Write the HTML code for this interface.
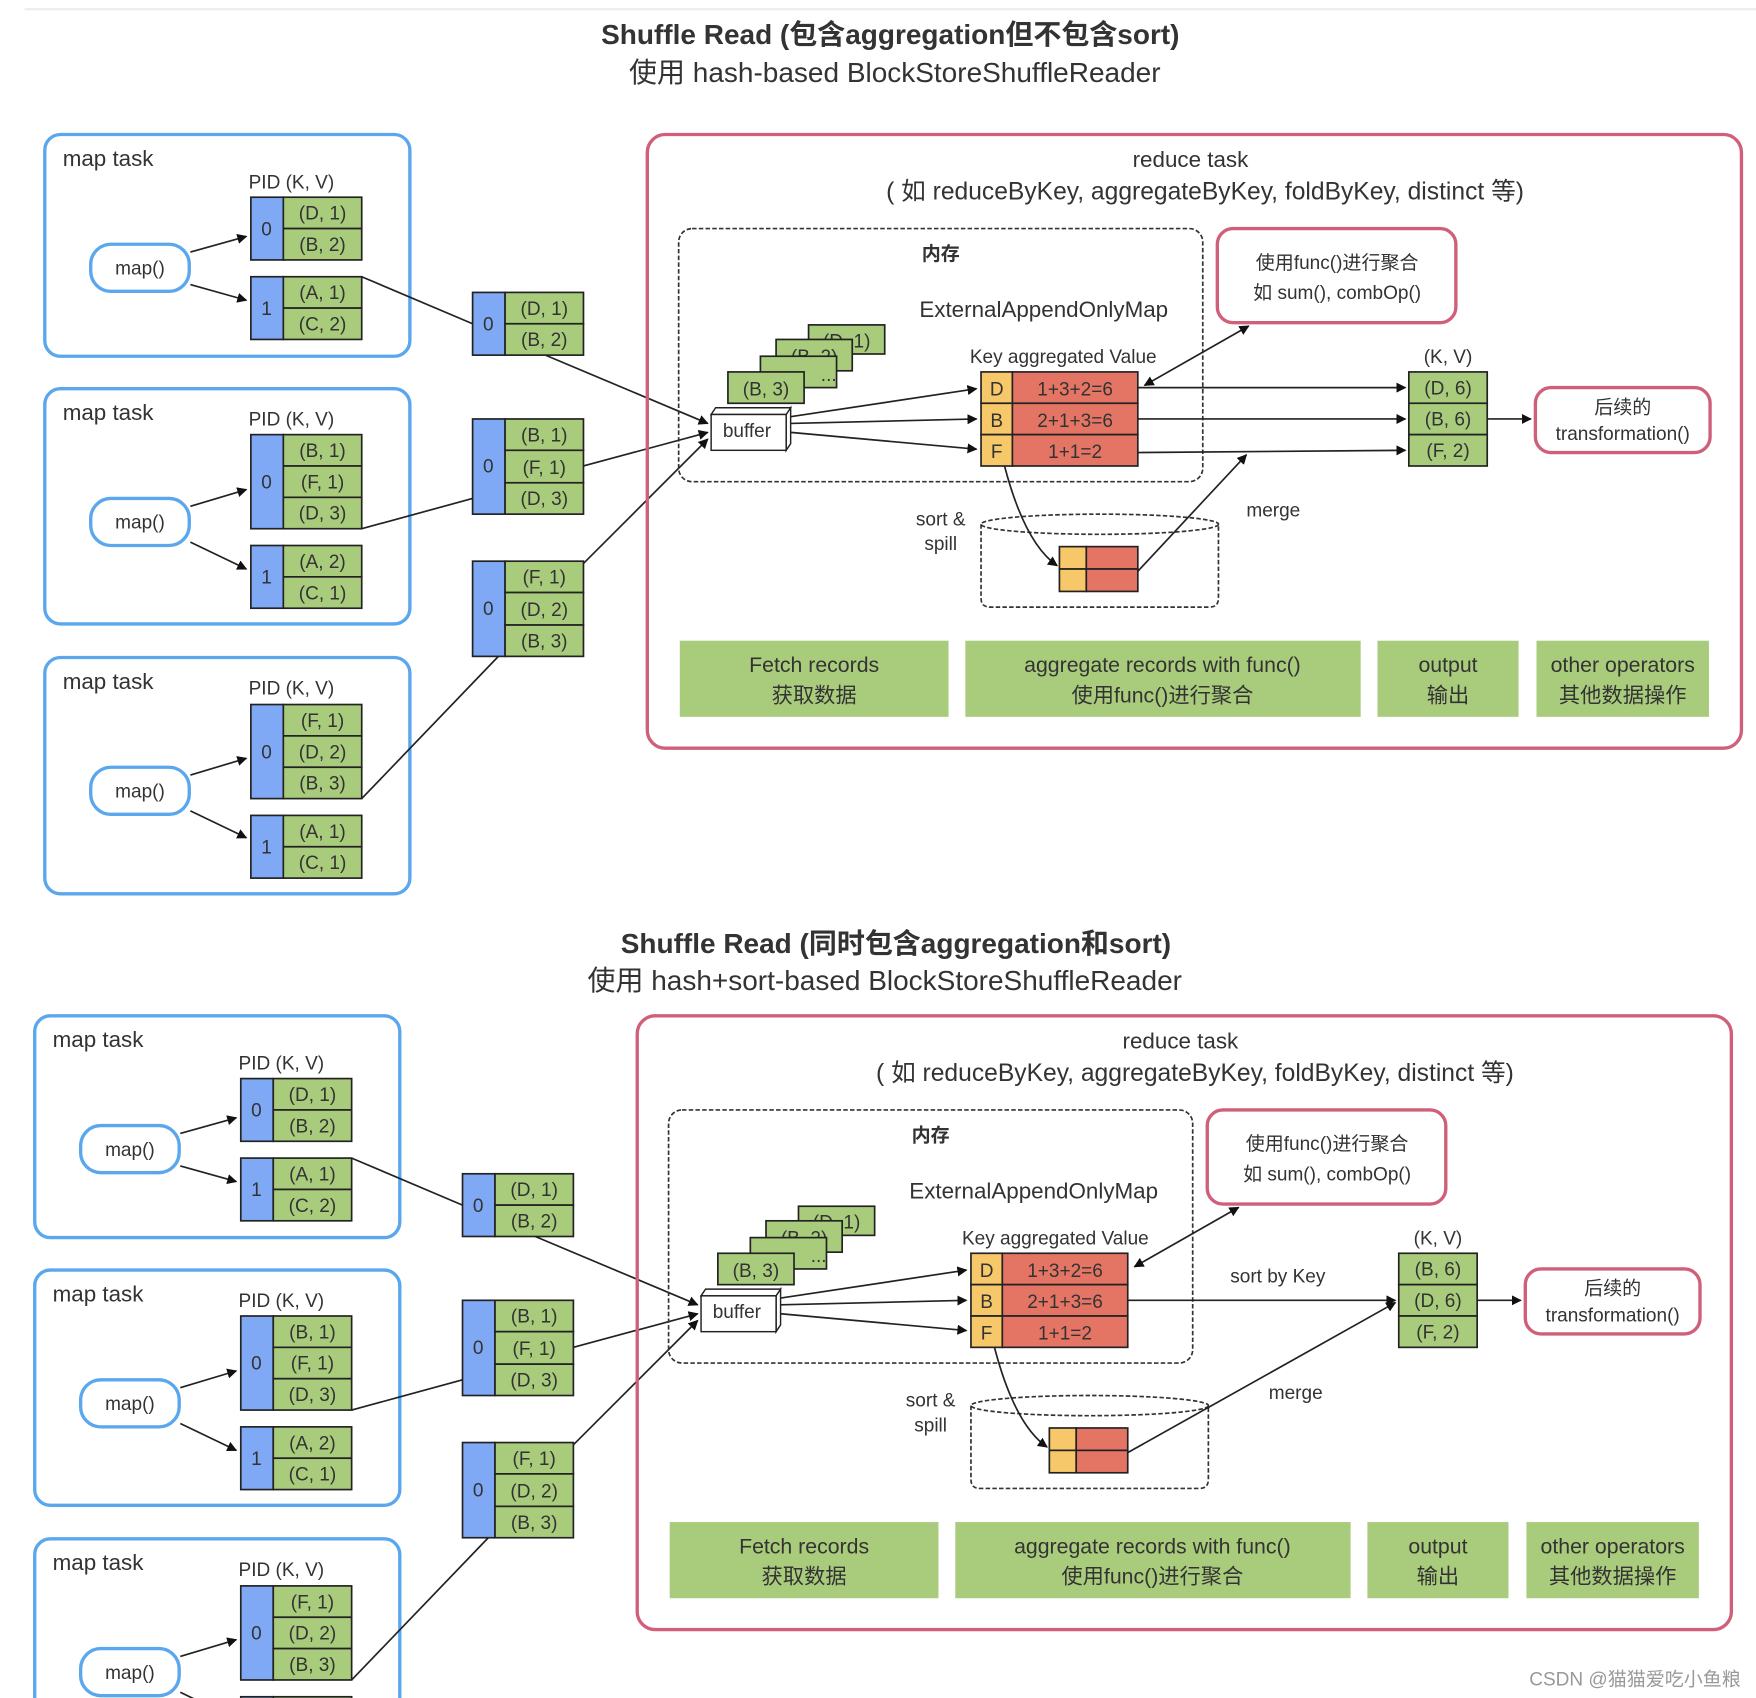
<!DOCTYPE html>
<html><head><meta charset="utf-8"><style>
html,body{margin:0;padding:0;background:#fff;}
svg{display:block;}
text{font-family:"Liberation Sans","Noto Sans CJK SC",sans-serif;fill:#333;}
.c{text-anchor:middle;}
.mt{stroke:#5aa7ee;stroke-width:3;fill:none;}
.pk{stroke:#d0607a;stroke-width:3;fill:none;}
.b{fill:#7fa8f5;stroke:#222;stroke-width:1.5;}
.g{fill:#a9cc7c;stroke:#222;stroke-width:1.5;}
.y{fill:#f6c86a;stroke:#222;stroke-width:1.5;}
.r{fill:#e47565;stroke:#222;stroke-width:1.5;}
.ln{stroke:#222;stroke-width:1.5;fill:none;}
.ar{stroke:#222;stroke-width:1.5;fill:none;marker-end:url(#a);}
.ds{stroke:#333;stroke-width:1.5;fill:none;stroke-dasharray:4 2;}
.gb{fill:#a9cc7c;}
.t17{font-size:17px;}
.t19{font-size:19px;}
.t20{font-size:20px;}
.t22{font-size:22px;}
</style></head><body>
<svg width="1756" height="1698" viewBox="0 0 1568 1516" xmlns="http://www.w3.org/2000/svg">
<defs>
<marker id="a" viewBox="0 0 10 10" refX="9" refY="5" markerWidth="9" markerHeight="9" markerUnits="userSpaceOnUse" orient="auto"><path d="M0,0L10,5L0,10z" fill="#111"/></marker>
<marker id="as" viewBox="0 0 10 10" refX="1" refY="5" markerWidth="9" markerHeight="9" markerUnits="userSpaceOnUse" orient="auto"><path d="M10,0L0,5L10,10z" fill="#111"/></marker>
</defs>
<line x1="22" y1="8" x2="1568" y2="8" stroke="#eee" stroke-width="2"/>

<text x="795" y="39" class="c" font-size="25" font-weight="bold">Shuffle Read (包含aggregation但不包含sort)</text>
<text x="799" y="73" class="c" font-size="25">使用 hash-based BlockStoreShuffleReader</text>

<g>
<rect x="40" y="120" width="326" height="198" rx="14" class="mt"/>
<text x="56" y="148" class="t20">map task</text>
<text x="222" y="168" class="t17">PID  (K, V)</text>
<rect x="81" y="218" width="88" height="42" rx="18" class="mt"/>
<text x="125" y="245" class="c t17">map()</text>
<rect x="224" y="176" width="29" height="56" class="b"/><text x="238" y="210" class="c t17">0</text>
<rect x="253" y="176" width="70" height="28" class="g"/><text x="288" y="196" class="c t17">(D, 1)</text>
<rect x="253" y="204" width="70" height="28" class="g"/><text x="288" y="224" class="c t17">(B, 2)</text>
<rect x="224" y="247" width="29" height="56" class="b"/><text x="238" y="281" class="c t17">1</text>
<rect x="253" y="247" width="70" height="28" class="g"/><text x="288" y="267" class="c t17">(A, 1)</text>
<rect x="253" y="275" width="70" height="28" class="g"/><text x="288" y="295" class="c t17">(C, 2)</text>
<line x1="170" y1="225" x2="220" y2="211" class="ar"/>
<line x1="170" y1="254" x2="220" y2="268" class="ar"/>

<rect x="40" y="347" width="326" height="210" rx="14" class="mt"/>
<text x="56" y="375" class="t20">map task</text>
<text x="222" y="380" class="t17">PID  (K, V)</text>
<rect x="81" y="445" width="88" height="42" rx="18" class="mt"/>
<text x="125" y="472" class="c t17">map()</text>
<rect x="224" y="388" width="29" height="84" class="b"/><text x="238" y="436" class="c t17">0</text>
<rect x="253" y="388" width="70" height="28" class="g"/><text x="288" y="408" class="c t17">(B, 1)</text>
<rect x="253" y="416" width="70" height="28" class="g"/><text x="288" y="436" class="c t17">(F, 1)</text>
<rect x="253" y="444" width="70" height="28" class="g"/><text x="288" y="464" class="c t17">(D, 3)</text>
<rect x="224" y="487" width="29" height="56" class="b"/><text x="238" y="521" class="c t17">1</text>
<rect x="253" y="487" width="70" height="28" class="g"/><text x="288" y="507" class="c t17">(A, 2)</text>
<rect x="253" y="515" width="70" height="28" class="g"/><text x="288" y="535" class="c t17">(C, 1)</text>
<line x1="170" y1="452" x2="220" y2="437" class="ar"/>
<line x1="170" y1="484" x2="220" y2="508" class="ar"/>

<rect x="40" y="587" width="326" height="211" rx="14" class="mt"/>
<text x="56" y="615" class="t20">map task</text>
<text x="222" y="620" class="t17">PID  (K, V)</text>
<rect x="81" y="685" width="88" height="42" rx="18" class="mt"/>
<text x="125" y="712" class="c t17">map()</text>
<rect x="224" y="629" width="29" height="84" class="b"/><text x="238" y="677" class="c t17">0</text>
<rect x="253" y="629" width="70" height="28" class="g"/><text x="288" y="649" class="c t17">(F, 1)</text>
<rect x="253" y="657" width="70" height="28" class="g"/><text x="288" y="677" class="c t17">(D, 2)</text>
<rect x="253" y="685" width="70" height="28" class="g"/><text x="288" y="705" class="c t17">(B, 3)</text>
<rect x="224" y="728" width="29" height="56" class="b"/><text x="238" y="762" class="c t17">1</text>
<rect x="253" y="728" width="70" height="28" class="g"/><text x="288" y="748" class="c t17">(A, 1)</text>
<rect x="253" y="756" width="70" height="28" class="g"/><text x="288" y="776" class="c t17">(C, 1)</text>
<line x1="170" y1="692" x2="220" y2="677" class="ar"/>
<line x1="170" y1="724" x2="220" y2="748" class="ar"/>

<rect x="422" y="261" width="29" height="56" class="b"/><text x="436" y="295" class="c t17">0</text>
<rect x="451" y="261" width="70" height="28" class="g"/><text x="486" y="281" class="c t17">(D, 1)</text>
<rect x="451" y="289" width="70" height="28" class="g"/><text x="486" y="309" class="c t17">(B, 2)</text>
<rect x="422" y="374" width="29" height="85" class="b"/><text x="436" y="422" class="c t17">0</text>
<rect x="451" y="374" width="70" height="28" class="g"/><text x="486" y="394" class="c t17">(B, 1)</text>
<rect x="451" y="402" width="70" height="29" class="g"/><text x="486" y="423" class="c t17">(F, 1)</text>
<rect x="451" y="431" width="70" height="28" class="g"/><text x="486" y="451" class="c t17">(D, 3)</text>
<rect x="422" y="501" width="29" height="85" class="b"/><text x="436" y="549" class="c t17">0</text>
<rect x="451" y="501" width="70" height="28" class="g"/><text x="486" y="521" class="c t17">(F, 1)</text>
<rect x="451" y="529" width="70" height="29" class="g"/><text x="486" y="550" class="c t17">(D, 2)</text>
<rect x="451" y="558" width="70" height="28" class="g"/><text x="486" y="578" class="c t17">(B, 3)</text>
<line x1="323" y1="247" x2="422" y2="289" class="ln"/>
<line x1="323" y1="472" x2="422" y2="445" class="ln"/>
<line x1="323" y1="713" x2="445" y2="586" class="ln"/>
<line x1="487" y1="317" x2="632" y2="378" class="ar"/>
<line x1="521" y1="416" x2="632" y2="386" class="ar"/>
<line x1="521" y1="503" x2="632" y2="392" class="ar"/>

<rect x="578" y="120" width="977" height="548" rx="16" class="pk"/>
<text x="1063" y="149" class="c t20">reduce task</text>
<text x="1076" y="178" class="c t22">( 如 reduceByKey, aggregateByKey, foldByKey, distinct 等)</text>
<rect x="606" y="204" width="468" height="226" rx="12" class="ds"/>
<text x="840" y="232" class="c t17" font-weight="bold">内存</text>
<text x="932" y="283" class="c t20">ExternalAppendOnlyMap</text>
<rect x="1087" y="204" width="213" height="84" rx="14" class="pk"/>
<text x="1194" y="240" class="c t17">使用func()进行聚合</text>
<text x="1194" y="267" class="c t17">如 sum(), combOp()</text>
<rect x="722" y="290" width="68" height="26" class="g"/><text x="756" y="310" class="c t17">(D, 1)</text>
<rect x="693" y="303" width="68" height="28" class="g"/><text x="727" y="324" class="c t17">(B, 2)</text>
<rect x="679" y="318" width="68" height="28" class="g"/><text x="740" y="340" class="c t17">...</text>
<rect x="650" y="332" width="68" height="28" class="g"/><text x="684" y="353" class="c t17">(B, 3)</text>
<path d="M635,370 L639,364 L706,364 L702,370 Z M702,370 L706,364 L706,396 L702,402 Z" fill="#fff" stroke="#222" stroke-width="1.3"/>
<rect x="635" y="370" width="67" height="32" fill="#fff" stroke="#222" stroke-width="1.3"/>
<text x="667" y="390" class="c t17">buffer</text>
<text x="866" y="324" class="t17">Key aggregated Value</text>
<rect x="876" y="332" width="28" height="28" class="y"/><text x="890" y="353" class="c t17">D</text>
<rect x="904" y="332" width="112" height="28" class="r"/><text x="960" y="353" class="c t17">1+3+2=6</text>
<rect x="876" y="360" width="28" height="28" class="y"/><text x="890" y="381" class="c t17">B</text>
<rect x="904" y="360" width="112" height="28" class="r"/><text x="960" y="381" class="c t17">2+1+3=6</text>
<rect x="876" y="388" width="28" height="28" class="y"/><text x="890" y="409" class="c t17">F</text>
<rect x="904" y="388" width="112" height="28" class="r"/><text x="960" y="409" class="c t17">1+1=2</text>
<line x1="706" y1="372" x2="872" y2="347" class="ar"/>
<line x1="706" y1="378" x2="872" y2="374" class="ar"/>
<line x1="706" y1="386" x2="872" y2="401" class="ar"/>
<line x1="1022" y1="344" x2="1115" y2="291" class="ln" marker-start="url(#as)" marker-end="url(#a)"/>
<line x1="1016" y1="346" x2="1255" y2="346" class="ar"/>
<line x1="1016" y1="374" x2="1255" y2="374" class="ar"/>
<line x1="1016" y1="404" x2="1255" y2="402" class="ar"/>
<text x="1293" y="324" class="c t17">(K, V)</text>
<rect x="1258" y="332" width="70" height="28" class="g"/><text x="1293" y="352" class="c t17">(D, 6)</text>
<rect x="1258" y="360" width="70" height="28" class="g"/><text x="1293" y="380" class="c t17">(B, 6)</text>
<rect x="1258" y="388" width="70" height="28" class="g"/><text x="1293" y="408" class="c t17">(F, 2)</text>
<line x1="1328" y1="374" x2="1367" y2="374" class="ar"/>
<rect x="1371" y="346" width="156" height="58" rx="14" class="pk"/>
<text x="1449" y="369" class="c t17">后续的</text>
<text x="1449" y="393" class="c t17">transformation()</text>
<text x="840" y="469" class="c t17">sort &amp;</text>
<text x="840" y="491" class="c t17">spill</text>
<path d="M876,468 L876,534 Q876,542 884,542 L1080,542 Q1088,542 1088,534 L1088,468" class="ds"/>
<ellipse cx="982" cy="468" rx="106" ry="9" class="ds"/>
<rect x="946" y="488" width="24" height="20" class="y"/><rect x="970" y="488" width="46" height="20" class="r"/>
<rect x="946" y="508" width="24" height="20" class="y"/><rect x="970" y="508" width="46" height="20" class="r"/>
<path d="M897,416 Q915,485 944,505" class="ar"/>
<line x1="1016" y1="510" x2="1113" y2="406" class="ar"/>
<text x="1137" y="461" class="c t17">merge</text>
<rect x="607" y="572" width="240" height="68" class="gb"/>
<text x="727" y="600" class="c t19">Fetch records</text><text x="727" y="627" class="c t19">获取数据</text>
<rect x="862" y="572" width="353" height="68" class="gb"/>
<text x="1038" y="600" class="c t19">aggregate records with func()</text><text x="1038" y="627" class="c t19">使用func()进行聚合</text>
<rect x="1230" y="572" width="126" height="68" class="gb"/>
<text x="1293" y="600" class="c t19">output</text><text x="1293" y="627" class="c t19">输出</text>
<rect x="1372" y="572" width="154" height="68" class="gb"/>
<text x="1449" y="600" class="c t19">other operators</text><text x="1449" y="627" class="c t19">其他数据操作</text>
</g>

<text x="800" y="851" class="c" font-size="25" font-weight="bold">Shuffle Read (同时包含aggregation和sort)</text>
<text x="790" y="884" class="c" font-size="25">使用 hash+sort-based BlockStoreShuffleReader</text>

<g transform="translate(-9,787)">
<rect x="40" y="120" width="326" height="198" rx="14" class="mt"/>
<text x="56" y="148" class="t20">map task</text>
<text x="222" y="168" class="t17">PID  (K, V)</text>
<rect x="81" y="218" width="88" height="42" rx="18" class="mt"/>
<text x="125" y="245" class="c t17">map()</text>
<rect x="224" y="176" width="29" height="56" class="b"/><text x="238" y="210" class="c t17">0</text>
<rect x="253" y="176" width="70" height="28" class="g"/><text x="288" y="196" class="c t17">(D, 1)</text>
<rect x="253" y="204" width="70" height="28" class="g"/><text x="288" y="224" class="c t17">(B, 2)</text>
<rect x="224" y="247" width="29" height="56" class="b"/><text x="238" y="281" class="c t17">1</text>
<rect x="253" y="247" width="70" height="28" class="g"/><text x="288" y="267" class="c t17">(A, 1)</text>
<rect x="253" y="275" width="70" height="28" class="g"/><text x="288" y="295" class="c t17">(C, 2)</text>
<line x1="170" y1="225" x2="220" y2="211" class="ar"/>
<line x1="170" y1="254" x2="220" y2="268" class="ar"/>

<rect x="40" y="347" width="326" height="210" rx="14" class="mt"/>
<text x="56" y="375" class="t20">map task</text>
<text x="222" y="380" class="t17">PID  (K, V)</text>
<rect x="81" y="445" width="88" height="42" rx="18" class="mt"/>
<text x="125" y="472" class="c t17">map()</text>
<rect x="224" y="388" width="29" height="84" class="b"/><text x="238" y="436" class="c t17">0</text>
<rect x="253" y="388" width="70" height="28" class="g"/><text x="288" y="408" class="c t17">(B, 1)</text>
<rect x="253" y="416" width="70" height="28" class="g"/><text x="288" y="436" class="c t17">(F, 1)</text>
<rect x="253" y="444" width="70" height="28" class="g"/><text x="288" y="464" class="c t17">(D, 3)</text>
<rect x="224" y="487" width="29" height="56" class="b"/><text x="238" y="521" class="c t17">1</text>
<rect x="253" y="487" width="70" height="28" class="g"/><text x="288" y="507" class="c t17">(A, 2)</text>
<rect x="253" y="515" width="70" height="28" class="g"/><text x="288" y="535" class="c t17">(C, 1)</text>
<line x1="170" y1="452" x2="220" y2="437" class="ar"/>
<line x1="170" y1="484" x2="220" y2="508" class="ar"/>

<rect x="40" y="587" width="326" height="211" rx="14" class="mt"/>
<text x="56" y="615" class="t20">map task</text>
<text x="222" y="620" class="t17">PID  (K, V)</text>
<rect x="81" y="685" width="88" height="42" rx="18" class="mt"/>
<text x="125" y="712" class="c t17">map()</text>
<rect x="224" y="629" width="29" height="84" class="b"/><text x="238" y="677" class="c t17">0</text>
<rect x="253" y="629" width="70" height="28" class="g"/><text x="288" y="649" class="c t17">(F, 1)</text>
<rect x="253" y="657" width="70" height="28" class="g"/><text x="288" y="677" class="c t17">(D, 2)</text>
<rect x="253" y="685" width="70" height="28" class="g"/><text x="288" y="705" class="c t17">(B, 3)</text>
<rect x="224" y="728" width="29" height="56" class="b"/>
<rect x="253" y="728" width="70" height="28" class="g"/>
<line x1="170" y1="692" x2="220" y2="677" class="ar"/>
<line x1="170" y1="724" x2="220" y2="748" class="ar"/>

<rect x="422" y="261" width="29" height="56" class="b"/><text x="436" y="295" class="c t17">0</text>
<rect x="451" y="261" width="70" height="28" class="g"/><text x="486" y="281" class="c t17">(D, 1)</text>
<rect x="451" y="289" width="70" height="28" class="g"/><text x="486" y="309" class="c t17">(B, 2)</text>
<rect x="422" y="374" width="29" height="85" class="b"/><text x="436" y="422" class="c t17">0</text>
<rect x="451" y="374" width="70" height="28" class="g"/><text x="486" y="394" class="c t17">(B, 1)</text>
<rect x="451" y="402" width="70" height="29" class="g"/><text x="486" y="423" class="c t17">(F, 1)</text>
<rect x="451" y="431" width="70" height="28" class="g"/><text x="486" y="451" class="c t17">(D, 3)</text>
<rect x="422" y="501" width="29" height="85" class="b"/><text x="436" y="549" class="c t17">0</text>
<rect x="451" y="501" width="70" height="28" class="g"/><text x="486" y="521" class="c t17">(F, 1)</text>
<rect x="451" y="529" width="70" height="29" class="g"/><text x="486" y="550" class="c t17">(D, 2)</text>
<rect x="451" y="558" width="70" height="28" class="g"/><text x="486" y="578" class="c t17">(B, 3)</text>
<line x1="323" y1="247" x2="422" y2="289" class="ln"/>
<line x1="323" y1="472" x2="422" y2="445" class="ln"/>
<line x1="323" y1="713" x2="445" y2="586" class="ln"/>
<line x1="487" y1="317" x2="632" y2="378" class="ar"/>
<line x1="521" y1="416" x2="632" y2="386" class="ar"/>
<line x1="521" y1="503" x2="632" y2="392" class="ar"/>

<rect x="578" y="120" width="977" height="548" rx="16" class="pk"/>
<text x="1063" y="149" class="c t20">reduce task</text>
<text x="1076" y="178" class="c t22">( 如 reduceByKey, aggregateByKey, foldByKey, distinct 等)</text>
<rect x="606" y="204" width="468" height="226" rx="12" class="ds"/>
<text x="840" y="232" class="c t17" font-weight="bold">内存</text>
<text x="932" y="283" class="c t20">ExternalAppendOnlyMap</text>
<rect x="1087" y="204" width="213" height="84" rx="14" class="pk"/>
<text x="1194" y="240" class="c t17">使用func()进行聚合</text>
<text x="1194" y="267" class="c t17">如 sum(), combOp()</text>
<rect x="722" y="290" width="68" height="26" class="g"/><text x="756" y="310" class="c t17">(D, 1)</text>
<rect x="693" y="303" width="68" height="28" class="g"/><text x="727" y="324" class="c t17">(B, 2)</text>
<rect x="679" y="318" width="68" height="28" class="g"/><text x="740" y="340" class="c t17">...</text>
<rect x="650" y="332" width="68" height="28" class="g"/><text x="684" y="353" class="c t17">(B, 3)</text>
<path d="M635,370 L639,364 L706,364 L702,370 Z M702,370 L706,364 L706,396 L702,402 Z" fill="#fff" stroke="#222" stroke-width="1.3"/>
<rect x="635" y="370" width="67" height="32" fill="#fff" stroke="#222" stroke-width="1.3"/>
<text x="667" y="390" class="c t17">buffer</text>
<text x="868" y="324" class="t17">Key aggregated Value</text>
<rect x="876" y="332" width="28" height="28" class="y"/><text x="890" y="353" class="c t17">D</text>
<rect x="904" y="332" width="112" height="28" class="r"/><text x="960" y="353" class="c t17">1+3+2=6</text>
<rect x="876" y="360" width="28" height="28" class="y"/><text x="890" y="381" class="c t17">B</text>
<rect x="904" y="360" width="112" height="28" class="r"/><text x="960" y="381" class="c t17">2+1+3=6</text>
<rect x="876" y="388" width="28" height="28" class="y"/><text x="890" y="409" class="c t17">F</text>
<rect x="904" y="388" width="112" height="28" class="r"/><text x="960" y="409" class="c t17">1+1=2</text>
<line x1="706" y1="372" x2="872" y2="347" class="ar"/>
<line x1="706" y1="378" x2="872" y2="374" class="ar"/>
<line x1="706" y1="386" x2="872" y2="401" class="ar"/>
<line x1="1022" y1="344" x2="1115" y2="291" class="ln" marker-start="url(#as)" marker-end="url(#a)"/>
<line x1="1016" y1="374" x2="1255" y2="374" class="ar"/>
<text x="1150" y="358" class="c t17">sort by Key</text>
<text x="1293" y="324" class="c t17">(K, V)</text>
<rect x="1258" y="332" width="70" height="28" class="g"/><text x="1293" y="352" class="c t17">(B, 6)</text>
<rect x="1258" y="360" width="70" height="28" class="g"/><text x="1293" y="380" class="c t17">(D, 6)</text>
<rect x="1258" y="388" width="70" height="28" class="g"/><text x="1293" y="408" class="c t17">(F, 2)</text>
<line x1="1328" y1="374" x2="1367" y2="374" class="ar"/>
<rect x="1371" y="346" width="156" height="58" rx="14" class="pk"/>
<text x="1449" y="369" class="c t17">后续的</text>
<text x="1449" y="393" class="c t17">transformation()</text>
<text x="840" y="469" class="c t17">sort &amp;</text>
<text x="840" y="491" class="c t17">spill</text>
<path d="M876,468 L876,534 Q876,542 884,542 L1080,542 Q1088,542 1088,534 L1088,468" class="ds"/>
<ellipse cx="982" cy="468" rx="106" ry="9" class="ds"/>
<rect x="946" y="488" width="24" height="20" class="y"/><rect x="970" y="488" width="46" height="20" class="r"/>
<rect x="946" y="508" width="24" height="20" class="y"/><rect x="970" y="508" width="46" height="20" class="r"/>
<path d="M897,416 Q915,485 944,505" class="ar"/>
<line x1="1016" y1="510" x2="1255" y2="376" class="ar"/>
<text x="1166" y="462" class="c t17">merge</text>
<rect x="607" y="572" width="240" height="68" class="gb"/>
<text x="727" y="600" class="c t19">Fetch records</text><text x="727" y="627" class="c t19">获取数据</text>
<rect x="862" y="572" width="353" height="68" class="gb"/>
<text x="1038" y="600" class="c t19">aggregate records with func()</text><text x="1038" y="627" class="c t19">使用func()进行聚合</text>
<rect x="1230" y="572" width="126" height="68" class="gb"/>
<text x="1293" y="600" class="c t19">output</text><text x="1293" y="627" class="c t19">输出</text>
<rect x="1372" y="572" width="154" height="68" class="gb"/>
<text x="1449" y="600" class="c t19">other operators</text><text x="1449" y="627" class="c t19">其他数据操作</text>
</g>
<text x="1460" y="1505" class="c t17" style="fill:#999">CSDN @猫猫爱吃小鱼粮</text>
</svg>
</body></html>
